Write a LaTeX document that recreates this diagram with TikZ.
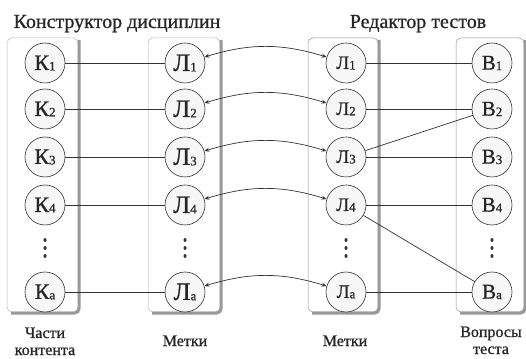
\documentclass[tikz,border=0pt]{standalone}
\usepackage{fontspec}
\setmainfont[FakeBold=0.8]{Liberation Serif}
\usetikzlibrary{arrows.meta,shapes.geometric}
\definecolor{framec}{gray}{0.72}
\definecolor{shadowc}{gray}{0.6}
\definecolor{linec}{gray}{0.2}
\newcommand\subsc[1]{\raisebox{-0.5pt}{\fontsize{13}{13}\selectfont #1}}
\begin{document}
\begin{tikzpicture}[x=1pt,y=1pt,
  circ/.style={circle, draw=linec, line width=0.6pt, fill=gray!6, minimum size=40pt, inner sep=0pt, text=black!85},
  ktext/.style={font=\fontsize{22}{22}\selectfont},
  lltext/.style={font=\fontsize{25}{25}\selectfont},
  lmtext/.style={font=\fontsize{19}{19}\selectfont},
  btext/.style={font=\fontsize{21}{21}\selectfont},
  conn/.style={draw=linec, line width=0.7pt},
  dbl/.style={draw=linec, line width=0.7pt, {Stealth[length=5pt,width=4pt]}-{Stealth[length=5pt,width=4pt]}, bend left=17},
  lab/.style={font=\fontsize{16}{16}\selectfont, anchor=base, text=black!85},
  ttl/.style={font=\fontsize{20}{20}\selectfont, anchor=base, text=black!85},
  dotc/.style={ellipse, fill=linec, inner sep=0pt, minimum width=3pt, minimum height=4pt}
]
\useasboundingbox (0,0) rectangle (526,358);
\fill[white] (0,0) rectangle (526,358);

% panels
\foreach \xa/\xb/\fc in {7/78/framec, 148/220/framec, 308/378/gray!85, 456/524/gray!85}{
  \draw[\fc, line width=0.5pt, rounded corners=5pt] (\xa,46) rectangle (\xb,320);
  \draw[shadowc, line width=3pt, rounded corners=5pt] (\xb+1.2,318) -- (\xb+1.2,44.8) -- (\xa+4,44.8);
}

% titles
\node[ttl] (t1) at (117,330) {Конструктор дисциплин};
\node[ttl] (t2) at (418,330) {Редактор тестов};

% column K
\node[circ, ktext] (k1) at (45,295) {К\subsc{1}};
\node[circ, ktext] (k2) at (45,249) {К\subsc{2}};
\node[circ, ktext] (k3) at (45,201) {К\subsc{3}};
\node[circ, ktext] (k4) at (45,153) {К\subsc{4}};
\node[circ, ktext] (ka) at (45,66) {К\subsc{a}};

% column L (left)
\node[circ, lltext] (la1) at (185,295) {Л\subsc{1}};
\node[circ, lltext] (la2) at (185,249) {Л\subsc{2}};
\node[circ, lltext] (la3) at (185,201) {Л\subsc{3}};
\node[circ, lltext] (la4) at (185,153) {Л\subsc{4}};
\node[circ, lltext] (laa) at (185,66) {Л\subsc{a}};

% column L (middle)
\node[circ, lmtext] (lb1) at (346,295) {Л\subsc{1}};
\node[circ, lmtext] (lb2) at (346,249) {Л\subsc{2}};
\node[circ, lmtext] (lb3) at (346,201) {Л\subsc{3}};
\node[circ, lmtext] (lb4) at (346,153) {Л\subsc{4}};
\node[circ, lmtext] (lba) at (346,66) {Л\subsc{a}};

% column B
\node[circ, btext] (b1) at (492,295) {В\subsc{1}};
\node[circ, btext] (b2) at (492,249) {В\subsc{2}};
\node[circ, btext] (b3) at (492,201) {В\subsc{3}};
\node[circ, btext] (b4) at (492,153) {В\subsc{4}};
\node[circ, btext] (ba) at (492,66) {В\subsc{a}};

% dots
\foreach \cx/\nm in {45/k, 185/la, 346/lb, 492/b}{
  \node[dotc] (\nm d1) at (\cx,118) {};
  \node[dotc] (\nm d2) at (\cx,110) {};
  \node[dotc] (\nm d3) at (\cx,102) {};
}

% K - L lines
\foreach \i in {1,2,3,4,a}{
  \draw[conn] (k\i) -- (la\i);
  \draw[dbl] (la\i) to (lb\i);
}

% L - B lines
\draw[conn] (lb1) -- (b1);
\draw[conn] (lb2) -- (b2);
\draw[conn] (lb3) -- (b2);
\draw[conn] (lb3) -- (b3);
\draw[conn] (lb4) -- (b4);
\draw[conn] (lb4) -- (ba);
\draw[conn] (lba) -- (ba);

% labels
\node[lab] (c1) at (45,20) {Части};
\node[lab] (c2) at (45,3) {контента};
\node[lab] (m1) at (185,12) {Метки};
\node[lab] (m2) at (345,12) {Метки};
\node[lab] (v1) at (491,21) {Вопросы};
\node[lab] (v2) at (491,4) {теста};
\end{tikzpicture}
\end{document}
